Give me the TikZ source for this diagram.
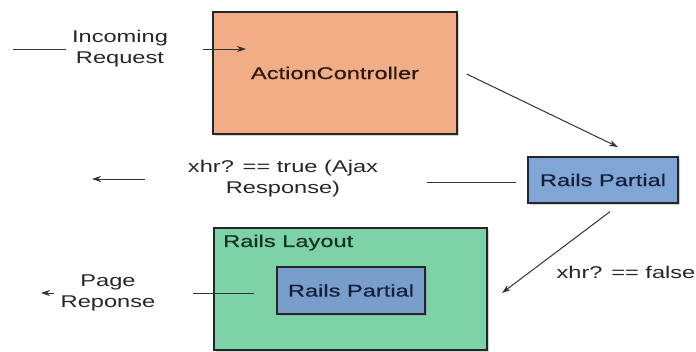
\documentclass[tikz,border=0pt]{standalone}
\usepackage{fontspec}
\setmainfont{Liberation Sans}[FakeStretch=1.39]
\newfontfamily\boxfont{Liberation Sans}[FakeStretch=1.39, FakeBold=0.6]
\usetikzlibrary{arrows.meta,shadows}

\definecolor{ctrlfill}{RGB}{241,173,133}
\definecolor{partfill}{RGB}{128,166,214}
\definecolor{layfill}{RGB}{125,211,167}
\definecolor{ctrltext}{RGB}{45,25,18}
\definecolor{parttext}{RGB}{20,32,58}
\definecolor{laytext}{RGB}{22,50,34}

\begin{document}
\begin{tikzpicture}[x=1pt, y=-1pt, font=\fontsize{17}{21}\selectfont,
  box/.style={draw=black!85, line width=1.3pt, inner sep=0pt, font=\fontsize{17}{21}\boxfont,
    drop shadow={shadow xshift=2pt, shadow yshift=-2pt, opacity=0.35}},
  lbl/.style={align=center, inner sep=0pt, text=black!85},
  link/.style={line width=0.8pt, draw=black!80},
  flow/.style={link, -{Stealth[length=9pt,width=6pt]}}]
\useasboundingbox (0,0) rectangle (696,352);

% boxes
\node[box, fill=ctrlfill, text=ctrltext, minimum width=244pt, minimum height=122pt] (ctrl) at (335,73) {ActionController};
\node[box, fill=partfill, text=parttext, minimum width=150pt, minimum height=46pt] (partial) at (603,180) {Rails Partial};
\node[box, fill=layfill, minimum width=273pt, minimum height=122pt] (layout) at (350.5,289) {};
\node[anchor=base west, inner sep=0pt, text=laytext, font=\fontsize{17}{21}\boxfont] (laytitle) at (223,247) {Rails Layout};
\node[box, fill=partfill!95!black, text=parttext, minimum width=148pt, minimum height=47pt] (inner) at (351,290.5) {Rails Partial};

% labels
\node[lbl] (incoming) at (120,49) {Incoming\\Request};
\node[lbl] (xhrtrue) at (283,179) {xhr? == true (Ajax\\Response)};
\node[lbl] (page) at (108,293) {Page\\Reponse};
\node[lbl] (xhrfalse) at (626,272) {xhr? == false};

% loose ends
\coordinate (reqstart) at (13,49);
\coordinate (reqend) at (246,49);
\coordinate (ajaxin) at (618,147);
\coordinate (ajaxout) at (92,179);
\coordinate (pagein) at (502,293);
\coordinate (pageout) at (41,293);

% request comes in
\draw[link, shorten >=6pt] (reqstart) -- (incoming.west);
\draw[flow, shorten <=35pt] (incoming.east) -- (reqend);
\draw[flow, line width=1pt] ([shift={(9,1)}]ctrl.east) -- (ajaxin);

% ajax answer
\draw[link, shorten <=11pt, shorten >=49pt] ([yshift=-2pt]partial.west) -- ([yshift=-2pt]partial.west -| xhrtrue.east);
\draw[flow, shorten <=43pt] (xhrtrue.west) -- (ajaxout);

% full page answer
\draw[flow, line width=1pt] ([shift={(7,8)}]partial.south) -- (pagein);
\draw[link, shorten <=38pt, shorten >=22pt] (page.east) -- (page.east -| inner.west);
\draw[flow, shorten <=7pt] (page.west) -- (pageout);
\end{tikzpicture}
\end{document}
